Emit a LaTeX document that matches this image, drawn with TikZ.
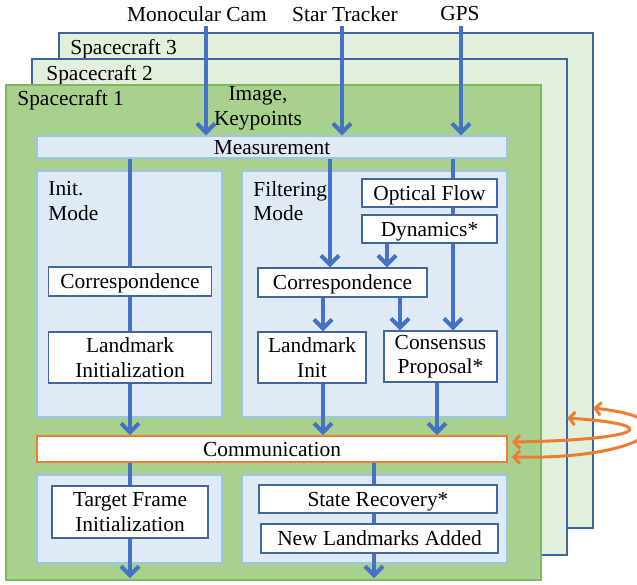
\documentclass[tikz,border=0pt]{standalone}
\usepackage{fontspec}
\setmainfont{Liberation Serif}
\usetikzlibrary{arrows.meta}

\definecolor{scgreen}{HTML}{A9D18E}
\definecolor{scgreenedge}{HTML}{7FB85A}
\definecolor{scpale}{HTML}{E2EFDA}
\definecolor{scpaleedge}{HTML}{3F64A0}
\definecolor{panelfill}{HTML}{DEEBF7}
\definecolor{paneledge}{HTML}{9DC3E6}
\definecolor{boxedge}{HTML}{41679E}
\definecolor{flowblue}{HTML}{4472C4}
\definecolor{commorange}{HTML}{ED7D31}

\tikzset{
  every node/.style={font=\fontsize{10.7}{12.3}\selectfont},
  scback/.style={draw=scpaleedge, fill=scpale, line width=0.8pt},
  scfront/.style={draw=scgreenedge, fill=scgreen, line width=0.8pt},
  panel/.style={draw=paneledge, fill=panelfill, line width=0.7pt},
  wbox/.style={draw=boxedge, fill=white, line width=0.7pt, align=center, inner sep=0pt},
  oneline/.style={text height=8.5pt, text depth=1.5pt},
  blueline/.style={draw=flowblue, line width=2pt},
  bluearrow/.style={blueline, -{Straight Barb[length=4.5pt,width=9pt]}},
  orangearrow/.style={draw=commorange, line width=1.5pt,
    {Straight Barb[length=3pt,width=6.5pt]}-{Straight Barb[length=3pt,width=6.5pt]}}
}

\begin{document}
\begin{tikzpicture}[x=0.5pt,y=-0.5pt]
\useasboundingbox (0,0) rectangle (637,584);

% Spacecraft frames
\draw[scback] (59,33) rectangle (593,528);
\node[anchor=west, inner sep=0] (sc3) at (70,49) {Spacecraft 3};
\draw[scback] (32,59) rectangle (567,555);
\node[anchor=west, inner sep=0] (sc2) at (46,75) {Spacecraft 2};
\draw[scfront] (6,85) rectangle (541,580);
\node[anchor=west, inner sep=0] (sc1) at (17,100) {Spacecraft 1};

% Mode panels
\draw[panel] (37,171) rectangle (222,417);
\draw[panel] (242,171) rectangle (507,417);
\draw[panel] (37,475) rectangle (222,563);
\draw[panel] (242,475) rectangle (507,563);
\node[anchor=north west, align=left, inner sep=0] (initlbl) at (48,181) {Init.\\Mode};
\node[anchor=north west, align=left, inner sep=0] (filtlbl) at (253,181) {Filtering\\Mode};

% Sensors
\node (mono) at (197,14) {Monocular Cam};
\node (star) at (345,14) {Star Tracker};
\node (gps) at (460,14) {GPS};
\node[align=center, inner sep=0] (imgkp) at (258,108) {Image,\\Keypoints};

% Blocks
\node[panel, oneline, minimum width=235pt, minimum height=11pt, inner sep=0] (meas) at (272,147) {Measurement};
\node[wbox, oneline, minimum width=81.5pt, minimum height=14.5pt] (corrA) at (130,281.5) {Correspondence};
\node[wbox, minimum width=81.5pt, minimum height=25.5pt] (lmA) at (130,357.5) {Landmark\\Initialization};
\node[wbox, oneline, minimum width=67.5pt, minimum height=14pt] (optflow) at (429.5,193) {Optical Flow};
\node[wbox, oneline, minimum width=67.5pt, minimum height=14pt] (dyn) at (429.5,229) {Dynamics*};
\node[wbox, oneline, minimum width=84.5pt, minimum height=14.5pt] (corrB) at (342.5,282.5) {Correspondence};
\node[wbox, minimum width=54pt, minimum height=25.5pt] (lmB) at (312,357.5) {Landmark\\Init};
\node[wbox, minimum width=56.5pt, minimum height=25.5pt] (cons) at (440.5,356.5) {Consensus\\Proposal*};
\node[wbox, oneline, draw=commorange, line width=0.9pt, minimum width=235pt, minimum height=13pt] (comm) at (272,449) {Communication};
\node[wbox, minimum width=78pt, minimum height=26pt] (tfi) at (130,512) {Target Frame\\Initialization};
\node[wbox, oneline, minimum width=119pt, minimum height=14pt] (srec) at (378,499) {State Recovery*};
\node[wbox, oneline, minimum width=118.5pt, minimum height=14.5pt] (newlm) at (379.5,538.5) {New Landmarks Added};

% Lanes and free ends
\coordinate (camin) at (206,26);
\coordinate (starin) at (342,26);
\coordinate (gpsin) at (461,26);
\coordinate (laneST) at (330,0);
\coordinate (laneGPS) at (453,0);
\coordinate (laneDC) at (387,0);
\coordinate (laneLM) at (323,0);
\coordinate (laneCP) at (400,0);
\coordinate (laneCC) at (437,0);
\coordinate (laneSR) at (374,0);
\coordinate (outA) at (130,578);
\coordinate (outB) at (374,578);
\coordinate (sc2port) at (567,418);
\coordinate (sc3port) at (593,408);

% Sensor inputs
\draw[bluearrow] (camin) -- (camin |- meas.north);
\draw[bluearrow] (starin) -- (starin |- meas.north);
\draw[bluearrow] (gpsin) -- (gpsin |- meas.north);

% Init mode
\draw[blueline] (meas.south -| corrA.north) -- (corrA.north);
\draw[blueline] (corrA) -- (lmA);
\draw[bluearrow] (lmA) -- (lmA |- comm.north);

% Filtering mode
\draw[bluearrow] (meas.south -| laneST) -- (corrB.north -| laneST);
\draw[blueline] (meas.south -| laneGPS) -- (optflow.north -| laneGPS);
\draw[blueline] (optflow.south -| laneGPS) -- (dyn.north -| laneGPS);
\draw[bluearrow] (dyn.south -| laneGPS) -- (cons.north -| laneGPS);
\draw[bluearrow] (dyn.south -| laneDC) -- (corrB.north -| laneDC);
\draw[bluearrow] (corrB.south -| laneLM) -- (lmB.north -| laneLM);
\draw[bluearrow] (corrB.south -| laneCP) -- (cons.north -| laneCP);
\draw[bluearrow] (lmB.south -| laneLM) -- (comm.north -| laneLM);
\draw[bluearrow] (cons.south -| laneCC) -- (comm.north -| laneCC);

% After communication
\draw[blueline] (comm.south -| tfi) -- (tfi);
\draw[bluearrow] (tfi) -- (outA);
\draw[blueline] (comm.south -| laneSR) -- (srec.north -| laneSR);
\draw[blueline] (srec.south -| laneSR) -- (newlm.north -| laneSR);
\draw[bluearrow] (newlm.south -| laneSR) -- (outB);

% Links to other spacecraft
\draw[orangearrow] ([xshift=2pt,yshift=3.5pt]comm.east) .. controls (640,440) and (670,425) .. (sc2port);
\draw[orangearrow] ([xshift=2pt,yshift=-4pt]comm.east) .. controls (640,460) and (700,420) .. (sc3port);
\end{tikzpicture}
\end{document}
